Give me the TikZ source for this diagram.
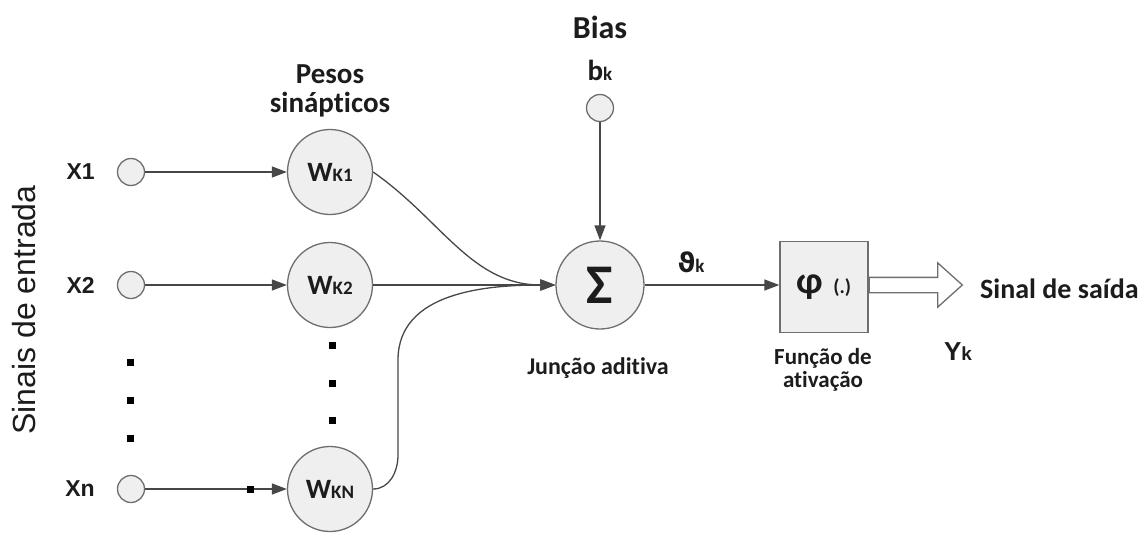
\documentclass[tikz,border=0pt]{standalone}
\usepackage{fontspec}
\setmainfont[Ligatures=NoCommon]{Carlito}
\newfontfamily\arialfont{Liberation Sans}
\newfontfamily\symfont{DejaVu Sans}
\usetikzlibrary{arrows.meta,shapes.arrows,positioning}
\definecolor{linegray}{HTML}{474747}
\definecolor{rimgray}{HTML}{6E6E6E}
\definecolor{bodygray}{HTML}{EFEFEF}
\definecolor{inkgray}{HTML}{1C1C1C}
\newcommand{\fsz}[1]{\fontsize{#1}{#1}\selectfont}
\newcommand{\sml}[1]{{\fsz{19}#1}}
\tikzstyle{input}=[circle,draw=rimgray,line width=1.3pt,fill=bodygray,minimum size=27pt,inner sep=0pt]
\tikzstyle{neuron}=[circle,draw=rimgray,line width=1.3pt,fill=bodygray,minimum size=85pt,inner sep=0pt,text=inkgray,font=\fsz{28}\bfseries]
\tikzstyle{edge}=[draw,linegray,line width=1.3pt,-{Triangle[length=15pt,width=11pt]}]
\tikzstyle{dot}=[fill=black,minimum size=7pt,inner sep=0pt]
\tikzstyle{lbl}=[inner sep=0pt,text=inkgray,font=\fsz{29}\bfseries]
\tikzstyle{xlbl}=[inner sep=0pt,text=inkgray,font=\arialfont\fsz{23}\bfseries]
\tikzstyle{small}=[inner sep=0pt,text=inkgray,font=\fsz{24}\bfseries,align=center]

\begin{document}
\begin{tikzpicture}[x=1pt,y=1pt]
    \useasboundingbox (0,0) rectangle (1146,-533);
    % Inputs and their labels
    \foreach \pos/ \name/ \txt in {{(131,-172)/x1/X1},{(131,-285)/x2/X2},{(131,-489)/xn/Xn}} {
        \node[input] (\name) at \pos {};
        \node[xlbl,left=22pt of \name] (l\name) {\txt};
    }

    % Synaptic weights
    \foreach \pos/ \name/ \idx in {{(330,-172)/w1/K1},{(330,-285)/w2/K2},{(330,-489)/wn/KN}}
        \node[neuron] (\name) at \pos {W\sml{\idx}};

    \foreach \source/ \dest in {x1/w1, x2/w2, xn/wn}
        \path[edge] (\source) -- (\dest);

    % Dots
    \foreach \pos/ \name in {{(130,-362)/da},{(130,-400)/db},{(130,-438)/dc},{(332,-345)/dd},{(332,-383)/de},{(332,-420)/df},{(250,-489)/dg}}
        \node[dot] (\name) at \pos {};

    % Summing junction and bias
    \node[neuron,minimum size=88pt] (sum) at (600,-285) {\fsz{56}\bfseries Σ};
    \node[input] (bias) at (600,-108) {};
    \node[lbl] (bk) at (600,-70) {b\sml{k}};
    \node[lbl,font=\fsz{32}\bfseries] (biastitle) at (600,-27) {Bias};
    \path[edge] (bias) -- (sum);

    \coordinate (bendlow) at (398,-455);
    \coordinate (bendhigh) at (398,-360);
    \path[edge] (w1.east) to[out=-35,in=180] (sum.west);
    \path[edge] (w2) -- (sum);
    \path[edge] (wn.east) to[out=0,in=-90] (bendlow) -- (bendhigh) to[out=90,in=180] (sum.west);

    % Activation
    \node[draw=rimgray,line width=1.3pt,fill=bodygray,minimum width=88pt,minimum height=91pt,text=inkgray] (act) at (824,-287)
        {\fsz{38}\bfseries φ\hspace{10pt}\fsz{20}(.)};
    \path[edge] (sum.east) -- (sum.east -| act.west);
    \node[draw=rimgray,line width=1.3pt,fill=white,single arrow,anchor=tail,minimum height=93pt,inner sep=7pt,
        single arrow head extend=14.5pt,single arrow tip angle=84] (out) at (sum -| act.east) {};

    % Labels
    \node[lbl] (theta) at (691,-262) {{\symfont\fsz{27}\bfseries ϑ}\sml{k}};
    \node[lbl,font=\fsz{28}\bfseries,anchor=base west] (saida) at (980,-298) {Sinal de saída};
    \node[lbl,font=\arialfont\fsz{26}\bfseries] (yk) at (958,-352) {Y\sml{k}};
    \node[small] (juncao) at (598,-368) {Junção aditiva};
    \node[small,font=\fsz{23}\bfseries] (funcao) at (823,-370) {Função de\\ativação};
    \node[small,font=\fsz{29}\bfseries] (pesos) at (330,-91) {Pesos\\sinápticos};
    \node[inner sep=0pt,text=inkgray,rotate=90,font=\arialfont\fsz{32}] (entrada) at (24,-310) {Sinais de entrada};
\end{tikzpicture}
\end{document}
